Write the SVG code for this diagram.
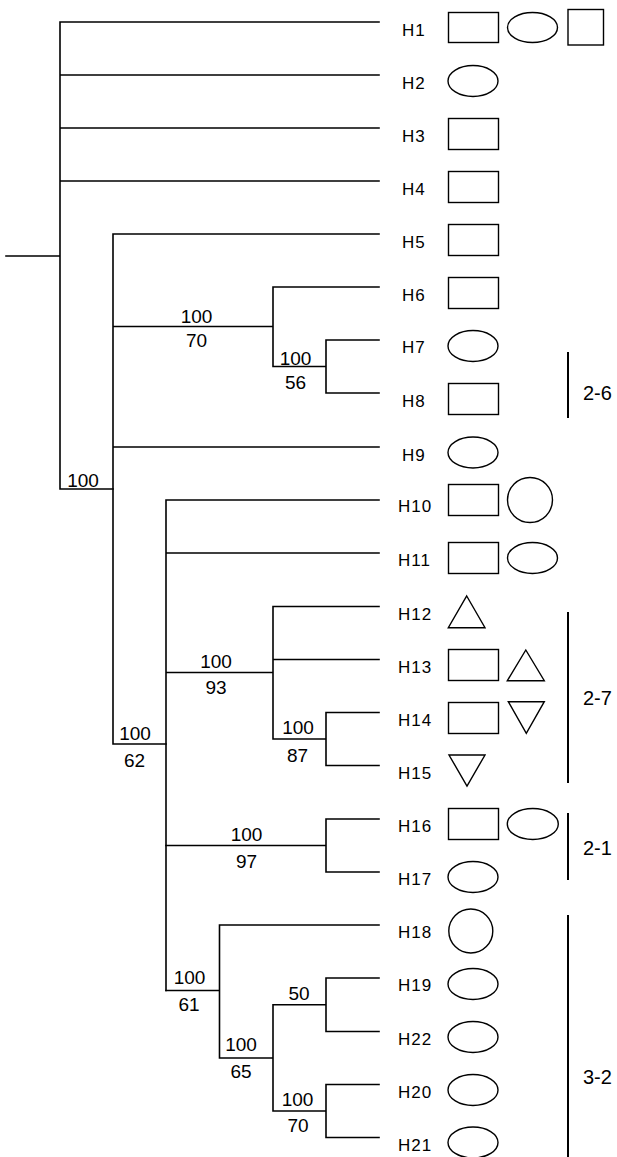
<svg xmlns="http://www.w3.org/2000/svg" width="617" height="1157" viewBox="0 0 617 1157">
<style>
.e{fill:none;stroke:#000;stroke-width:1.6;stroke-linecap:square}
.s{fill:#fff;stroke:#000;stroke-width:1.4}
.t{font-family:"Liberation Sans",Arial,sans-serif;font-size:17px;letter-spacing:1px;fill:#000}
.b{font-family:"Liberation Sans",Arial,sans-serif;font-size:19px;fill:#000;text-anchor:middle}
.g{font-family:"Liberation Sans",Arial,sans-serif;font-size:20px;fill:#000}
.bar{stroke:#000;stroke-width:2}
</style>
<rect width="617" height="1157" fill="#fff"/>
<g id="connectors">
<path class="e" d="M6 256H60M60 22V489M60 22H379M60 75H379M60 128H379M60 181H379M60 489H113"/>
<path class="e" d="M113 234V744M113 234H379M113 326.5H273M273 287V366.5M273 287H379M273 366.5H326M326 340V393M326 340H379M326 393H379M113 447H379M113 744H166"/>
<path class="e" d="M166 500V990.5M166 500H379M166 553H379M166 672.5H273M273 606.5V739M273 606.5H379M273 659.5H379M273 739H326M326 712.5V765.5M326 712.5H379M326 765.5H379"/>
<path class="e" d="M166 845.5H326M326 819V872M326 819H379M326 872H379"/>
<path class="e" d="M166 990.5H219.5M219.5 925V1058M219.5 925H379M219.5 1058H273M273 1004.75V1111M273 1004.75H326M326 978V1031.5M326 978H379M326 1031.5H379M273 1111H326M326 1084.5V1137.5M326 1084.5H379M326 1137.5H379"/>
</g>
<g id="support">
<text class="b" x="83" y="486.5">100</text>
<text class="b" x="196.5" y="322.5">100</text>
<text class="b" x="196.5" y="346.5">70</text>
<text class="b" x="295.5" y="365">100</text>
<text class="b" x="295.5" y="389">56</text>
<text class="b" x="135" y="740">100</text>
<text class="b" x="134.5" y="766.5">62</text>
<text class="b" x="216" y="667.5">100</text>
<text class="b" x="216" y="694">93</text>
<text class="b" x="298" y="734">100</text>
<text class="b" x="297.5" y="761.5">87</text>
<text class="b" x="246.5" y="841">100</text>
<text class="b" x="246.5" y="868">97</text>
<text class="b" x="189.5" y="984">100</text>
<text class="b" x="189" y="1011">61</text>
<text class="b" x="241" y="1051">100</text>
<text class="b" x="241" y="1078">65</text>
<text class="b" x="299" y="1000">50</text>
<text class="b" x="297.5" y="1106">100</text>
<text class="b" x="298" y="1131.5">70</text>
</g>
<g id="H1"><text class="t" x="402" y="36">H1</text><rect class="s" x="448.5" y="12.5" width="50" height="30"/><ellipse class="s" cx="532.5" cy="27.5" rx="25" ry="15"/><rect class="s" x="568" y="9.5" width="35.5" height="35.5"/></g>
<g id="H2"><text class="t" x="402" y="89">H2</text><ellipse class="s" cx="473" cy="81" rx="25" ry="15.5"/></g>
<g id="H3"><text class="t" x="402" y="142">H3</text><rect class="s" x="448.5" y="118.5" width="50" height="31"/></g>
<g id="H4"><text class="t" x="402" y="195">H4</text><rect class="s" x="448.5" y="171.5" width="50" height="31"/></g>
<g id="H5"><text class="t" x="402" y="248">H5</text><rect class="s" x="448.5" y="224.5" width="50" height="31"/></g>
<g id="H6"><text class="t" x="402" y="301">H6</text><rect class="s" x="448.5" y="277.5" width="50" height="31"/></g>
<g id="H7"><text class="t" x="402" y="353">H7</text><ellipse class="s" cx="473" cy="346" rx="25" ry="15.5"/></g>
<g id="H8"><text class="t" x="402" y="407">H8</text><rect class="s" x="448.5" y="383.5" width="50" height="31"/></g>
<g id="H9"><text class="t" x="402" y="461">H9</text><ellipse class="s" cx="473" cy="452.5" rx="25" ry="15.5"/></g>
<g id="H10"><text class="t" x="398" y="512">H10</text><rect class="s" x="448.5" y="484.5" width="50" height="31"/><circle class="s" cx="530" cy="500" r="22.5"/></g>
<g id="H11"><text class="t" x="398" y="566">H11</text><rect class="s" x="448.5" y="542.5" width="50" height="31"/><ellipse class="s" cx="532.5" cy="558" rx="25" ry="15.5"/></g>
<g id="H12"><text class="t" x="398" y="619.5">H12</text><polygon class="s" points="466.7,596 485,627.7 448.3,627.7"/></g>
<g id="H13"><text class="t" x="398" y="672.5">H13</text><rect class="s" x="448.5" y="649.5" width="50" height="31"/><polygon class="s" points="525.8,650 544.3,680.7 507.3,680.7"/></g>
<g id="H14"><text class="t" x="398" y="725.5">H14</text><rect class="s" x="448.5" y="702.5" width="50" height="31"/><polygon class="s" points="508.3,701.7 544.3,701.7 526.3,733.3"/></g>
<g id="H15"><text class="t" x="398" y="778.5">H15</text><polygon class="s" points="449,755 485,755 467,786"/></g>
<g id="H16"><text class="t" x="398" y="832">H16</text><rect class="s" x="448.5" y="808.5" width="50" height="31"/><ellipse class="s" cx="532.8" cy="824" rx="25.5" ry="15.5"/></g>
<g id="H17"><text class="t" x="398" y="885">H17</text><ellipse class="s" cx="473" cy="877" rx="25" ry="15.5"/></g>
<g id="H18"><text class="t" x="398" y="938">H18</text><circle class="s" cx="470.8" cy="931" r="22"/></g>
<g id="H19"><text class="t" x="398" y="991">H19</text><ellipse class="s" cx="473" cy="984" rx="25" ry="15.5"/></g>
<g id="H22"><text class="t" x="398" y="1044.5">H22</text><ellipse class="s" cx="473" cy="1037" rx="25" ry="15.5"/></g>
<g id="H20"><text class="t" x="398" y="1097.5">H20</text><ellipse class="s" cx="473" cy="1090" rx="25" ry="15.5"/></g>
<g id="H21"><text class="t" x="398" y="1150.5">H21</text><ellipse class="s" cx="473" cy="1142.5" rx="25" ry="15.5"/></g>
<g id="group-2-6"><line class="bar" x1="568" y1="352" x2="568" y2="418"/><text class="g" x="583" y="400">2-6</text></g>
<g id="group-2-7"><line class="bar" x1="568" y1="612" x2="568" y2="783"/><text class="g" x="583" y="705">2-7</text></g>
<g id="group-2-1"><line class="bar" x1="568" y1="813" x2="568" y2="880"/><text class="g" x="583" y="855">2-1</text></g>
<g id="group-3-2"><line class="bar" x1="568" y1="915" x2="568" y2="1157"/><text class="g" x="583" y="1084">3-2</text></g>
</svg>
